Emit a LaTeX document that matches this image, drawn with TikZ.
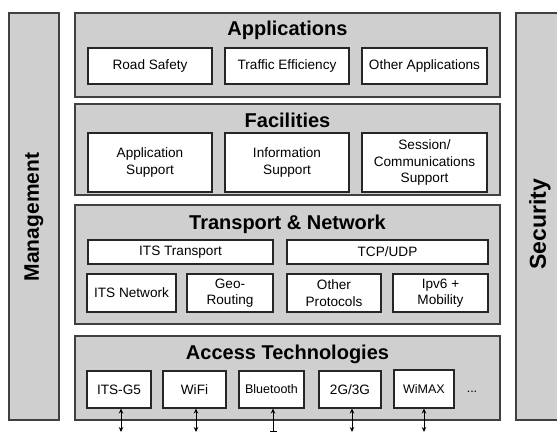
\documentclass[tikz,border=0pt]{standalone}
\usepackage{fontspec}
\setmainfont{Liberation Sans}
\usetikzlibrary{arrows.meta}

\begin{document}
\begin{tikzpicture}[x=1pt,y=-1pt,
  layer/.style={draw=black!75,fill=black!19,line width=1.2pt,inner sep=0pt},
  side/.style={layer,minimum width=50pt,minimum height=407pt},
  title/.style={anchor=base,font=\fontsize{20}{24}\selectfont\bfseries},
  block/.style={draw=black!85,fill=white,line width=1.1pt,align=center,inner sep=0pt,
    font=\fontsize{13.6}{16.5}\selectfont},
  small/.style={font=\fontsize{12.5}{15}\selectfont},
  radio/.style={{Stealth[length=5pt,width=4.5pt]}-{Stealth[length=5pt,width=4.5pt]},line width=1pt}]

  \path[use as bounding box,clip] (0,0) rectangle (557,433);

  % side bars
  \node[side] (mgmt) at (34,216.5) {};
  \node[rotate=90,font=\fontsize{21}{24}\selectfont\bfseries] (mgmt-t) at (34,217) {Management};
  \node[side] (sec) at (541,216.5) {};
  \node[rotate=90,font=\fontsize{23}{26}\selectfont\bfseries] (sec-t) at (540,224) {Security};

  % layers
  \node[layer,minimum width=425pt,minimum height=84pt] (app) at (287.5,55) {};
  \node[layer,minimum width=425pt,minimum height=91pt] (fac) at (287.5,149.5) {};
  \node[layer,minimum width=425pt,minimum height=119pt] (net) at (287.5,264.5) {};
  \node[layer,minimum width=425pt,minimum height=84pt] (acc) at (287.5,378) {};

  \node[title] (app-t) at (287.5,36) {Applications};
  \node[title] (fac-t) at (287.5,128) {Facilities};
  \node[title] (net-t) at (287.5,229) {Transport \& Network};
  \node[title] (acc-t) at (287.5,359) {Access Technologies};

  % applications
  \node[block,minimum width=124pt,minimum height=36pt] (road) at (150,66) {Road Safety};
  \node[block,minimum width=124pt,minimum height=36pt] (traffic) at (287,66) {Traffic Efficiency};
  \node[block,minimum width=125pt,minimum height=36pt] (otherapp) at (424.5,66) {Other Applications};

  % facilities
  \node[block,minimum width=124pt,minimum height=59pt] (appsup) at (150,162.5) {Application\\Support};
  \node[block,minimum width=124pt,minimum height=59pt] (infosup) at (287,162.5) {Information\\Support};
  \node[block,minimum width=125pt,minimum height=59pt] (sesssup) at (424.5,162.5) {Session/\\Communications\\Support};

  % transport & network
  \node[block,minimum width=185pt,minimum height=24pt] (itstr) at (180.5,252) {ITS Transport};
  \node[block,minimum width=201pt,minimum height=24pt] (tcp) at (387.5,252) {TCP/UDP};
  \node[block,minimum width=89pt,minimum height=38pt] (itsnet) at (131.5,293) {ITS Network};
  \node[block,minimum width=86pt,minimum height=38pt] (geo) at (230,293) {Geo-\\Routing};
  \node[block,minimum width=94pt,minimum height=38pt] (otherprot) at (334,293) {Other\\Protocols};
  \node[block,minimum width=95pt,minimum height=38pt] (ipv6) at (440.5,293) {Ipv6 +\\Mobility};

  % access technologies
  \node[block,minimum width=64pt,minimum height=37pt] (g5) at (119,389.5) {ITS-G5};
  \node[block,minimum width=63pt,minimum height=37pt] (wifi) at (194.5,389.5) {WiFi};
  \node[block,small,minimum width=65pt,minimum height=37pt] (bt) at (271.5,389.5) {Bluetooth};
  \node[block,minimum width=62pt,minimum height=37pt] (cell) at (350,389.5) {2G/3G};
  \node[block,small,minimum width=60pt,minimum height=38pt] (wimax) at (424,389) {WiMAX};
  \node[small] (more) at (472,392) {...};

  % radio links
  \coordinate (g5-air) at (121,432);
  \coordinate (wifi-air) at (196,432);
  \coordinate (bt-air) at (273,432);
  \coordinate (cell-air) at (352,432);
  \coordinate (wimax-air) at (424,432);

  \draw[radio] (g5-air) -- (g5-air |- g5.south);
  \draw[radio] (wifi-air) -- (wifi-air |- wifi.south);
  \draw[radio,{Bar[width=7pt]}-{Stealth[length=5pt,width=4.5pt]}] (bt-air) -- (bt-air |- bt.south);
  \draw[radio] (cell-air) -- (cell-air |- cell.south);
  \draw[radio] (wimax-air) -- (wimax-air |- wimax.south);

\end{tikzpicture}
\end{document}
